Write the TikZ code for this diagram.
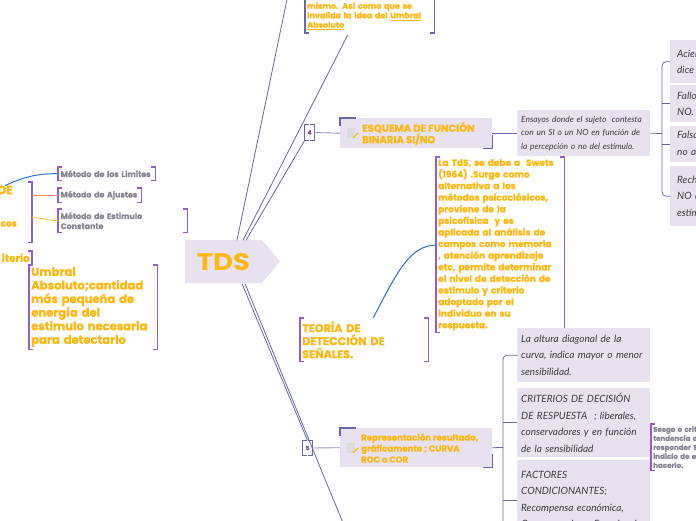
\documentclass[tikz,border=0pt]{standalone}
\usepackage{fontspec}
\setmainfont{Poppins}[BoldFeatures={FakeBold=1.2}]
\newfontfamily\headfont{Poppins}
\newfontfamily\handfont{Lato}
\usetikzlibrary{calc}
\definecolor{orangec}{RGB}{252,185,22}
\definecolor{lav}{RGB}{232,225,239}
\definecolor{linec}{RGB}{104,104,168}
\definecolor{brpurple}{RGB}{150,92,200}
\definecolor{numpurple}{RGB}{140,80,160}
\definecolor{methodgray}{RGB}{135,135,148}
\definecolor{handgray}{RGB}{60,60,66}
\definecolor{bluec}{RGB}{44,112,212}
\definecolor{salmon}{RGB}{240,138,118}
\definecolor{yellowc}{RGB}{246,202,92}

% square brackets round a node
\newcommand{\sqbrackets}[2]{%
  \draw[#2,line width=1.1pt] ([xshift=4pt]#1.north west) -- (#1.north west) -- (#1.south west) -- ([xshift=4pt]#1.south west);
  \draw[#2,line width=1.1pt] ([xshift=-4pt]#1.north east) -- (#1.north east) -- (#1.south east) -- ([xshift=-4pt]#1.south east);}
% corner marks on the shaded boxes
\newcommand{\cornermarks}[1]{%
  \draw[linec,line width=1.5pt] ([yshift=-8pt]#1.north west) -- (#1.north west) -- ([xshift=16pt]#1.north west);
  \draw[linec,line width=1.5pt] ([yshift=13pt]#1.south east) -- (#1.south east) -- ([xshift=-9pt]#1.south east);}

\begin{document}
\begin{tikzpicture}[x=1pt,y=-1pt,
  mainline/.style={linec,line width=0.8pt},
  orangetxt/.style={text=orangec,align=left,inner xsep=2pt,inner ysep=2pt},
  graytxt/.style={text=methodgray,align=left,font=\bfseries\fontsize{7.9}{10}\selectfont,inner xsep=2.5pt,inner ysep=1pt},
  lavbox/.style={fill=lav,inner sep=0pt},
  handtxt/.style={fill=lav,text=handgray,align=left,inner xsep=4pt,inner ysep=0pt,font=\handfont\itshape\fontsize{10}{16.5}\selectfont},
  numbox/.style={text=numpurple,font=\bfseries\fontsize{6}{6}\selectfont,minimum width=9pt,minimum height=15pt,inner sep=0pt}]
  \useasboundingbox (0,0) rectangle (696,520);
  \clip (0,0) rectangle (696,520);
  \fill[white] (0,0) rectangle (696,520);

  % ---- central node ----
  \fill[lav] (185,240) -- (262,240) -- (280,261.5) -- (262,283) -- (185,283) -- cycle;
  \node[text=orangec,font=\headfont\bfseries\fontsize{24}{24}\selectfont,minimum width=77pt,minimum height=43pt,inner sep=0pt]
      (tds) at (223.5,262) {\scalebox{1.15}[1]{TDS}};

  % ---- top branch ----
  \node[orangetxt,anchor=south west,text width=125pt,inner ysep=3pt,font=\bfseries\fontsize{8}{9.5}\selectfont]
      (topnote) at (305,33) {mismo. Así como que se\\invalida la idea del \underline{Umbral}\\\underline{Absoluto}};
  \sqbrackets{topnote}{linec}
  \coordinate (offtop) at (291,-20);
  \draw[mainline] ([xshift=13.5pt]tds.north) -- (offtop);
  \draw[mainline] ([xshift=19.5pt]tds.north) -- ([xshift=-22pt,yshift=-2pt]topnote.south);

  % ---- branch 4 ----
  \node[numbox] (num4) at (309.5,132.5) {4};
  \sqbrackets{num4}{linec}
  \draw[mainline] ([xshift=22.5pt]tds.north) -- (num4.south west);
  \node[lavbox,anchor=north west,minimum width=152pt,minimum height=30pt] (esquema) at (340,118) {};
  \cornermarks{esquema}
  \fill[gray!28] (347,128) rectangle (355,138);
  \draw[orangec,line width=1.3pt] (353,138) -- (358,133);
  \node[orangetxt,anchor=west,inner sep=0pt,font=\bfseries\fontsize{10.1}{11.5}\selectfont] (esqtext) at (362,133.5)
      {ESQUEMA DE FUNCIÓN\\BINARIA SI/NO};
  \draw[linec!70,line width=0.9pt] (num4.east) -- (esquema.west);
  \node[handtxt,anchor=north west,text width=125pt,minimum height=46pt,font=\handfont\itshape\fontsize{8.4}{13.5}\selectfont]
      (ensayos) at (517,110) {Ensayos donde el sujeto\ \ contesta\\con un SI o un NO en función de\\la percepción o no del estímulo.};
  \draw[mainline] (esquema.east) -- (ensayos.west);
  \node[handtxt,anchor=north west,text width=110pt,inner xsep=7pt,minimum height=43pt] (hit) at (670,40) {Aciertos\\dice SI};
  \node[handtxt,anchor=north west,text width=110pt,inner xsep=7pt,minimum height=37pt] (miss) at (670,85) {Fallos; dice\\NO.};
  \node[handtxt,anchor=north west,text width=110pt,inner xsep=7pt,minimum height=36pt] (falarm) at (670,126) {Falsas alarmas\\no aparece};
  \node[handtxt,anchor=north west,text width=110pt,inner xsep=7pt,minimum height=60pt] (reject) at (670,166) {Rechazo\\NO dice\\estímulo};
  \coordinate (jup) at (662,133.5);
  \draw[mainline] (ensayos.east) -- (jup);
  \draw[mainline,rounded corners=4pt] (hit.west) -| (jup) |- (reject.west);
  \draw[mainline] (jup |- miss.west) -- (miss.west);
  \draw[mainline] (jup |- falarm.west) -- (falarm.west);

  % ---- theory node + description ----
  \node[orangetxt,anchor=north west,text width=124pt,minimum height=175pt,font=\bfseries\fontsize{9}{11.6}\selectfont]
      (swets) at (436,157) {La TdS, se debe a\ \ Swets\\(1964) .Surge como\\alternativa a los\\métodos psicoclásicos,\\proviene de la\\psicofísica\ \ y es\\aplicada al análisis de\\campos como memoria\\, atención aprendizaje\\etc, permite determinar\\el nivel de detección de\\estímulo y criterio\\adoptado por el\\individuo en su\\respuesta.};
  \sqbrackets{swets}{brpurple}
  \node[orangetxt,anchor=north west,text width=124pt,minimum height=43pt,font=\bfseries\fontsize{11.2}{13}\selectfont]
      (teoria) at (300,318) {TEORÍA DE\\DETECCIÓN DE\\SEÑALES.};
  \sqbrackets{teoria}{brpurple}
  \draw[bluec,line width=1pt] ([xshift=9pt]teoria.north) .. controls (398,270) and (410,246) .. (swets.west);

  % ---- branch 5 ----
  \node[numbox] (num5) at (307.5,448) {5};
  \sqbrackets{num5}{linec}
  \draw[mainline] ([xshift=18.5pt]tds.south) -- (num5.north);
  \coordinate (offbottom) at (352,545);
  \draw[mainline] ([xshift=21.5pt]tds.south) -- (offbottom);
  \node[lavbox,anchor=north west,minimum width=152pt,minimum height=39pt] (curve) at (340,428) {};
  \cornermarks{curve}
  \fill[gray!28] (347,443) rectangle (355,453);
  \draw[orangec,line width=1.3pt] (353,453) -- (358,448);
  \node[orangetxt,anchor=west,inner sep=0pt,font=\bfseries\fontsize{8.6}{11}\selectfont] (curvetext) at (361,448)
      {Representación resultado,\\gráficamente ; CURVA\\ROC o COR};
  \draw[linec!70,line width=0.9pt] (num5.east) -- (curve.west);
  \node[handtxt,anchor=north west,text width=125pt,minimum height=54pt] (height) at (517,328)
      {La altura diagonal de la\\curva, indica mayor o menor\\sensibilidad.};
  \node[handtxt,anchor=north west,text width=125pt,minimum height=69pt] (criteria) at (517,388)
      {CRITERIOS DE DECISIÓN\\DE RESPUESTA\ \ ; liberales,\\conservadores y en función\\de la sensibilidad};
  \node[handtxt,anchor=north west,text width=125pt,minimum height=80pt] (factors) at (517,460)
      {FACTORES\\CONDICIONANTES;\\Recompensa económica,\\Consecuencias y Experiencia};
  \coordinate (jdown) at (503,447.5);
  \coordinate (offright) at (503,540);
  \draw[mainline] (curve.east) -- (jdown);
  \draw[mainline,rounded corners=4pt] (height.west) -| (jdown) -- (offright);
  \draw[mainline,rounded corners=4pt] (jdown |- criteria.west) -- (criteria.west);
  \draw[mainline,rounded corners=4pt] (jdown |- factors.west) -- (factors.west);
  \node[anchor=north west,text=methodgray,align=left,text width=90pt,inner xsep=2pt,inner ysep=2pt,
      font=\bfseries\fontsize{7.1}{9}\selectfont] (bias) at (651,424)
      {Sesgo o criterio:\\tendencia del sujeto\\responder SI\\indicio de estímulo\\hacerlo.};
  \sqbrackets{bias}{brpurple}

  % ---- left side ----
  \node[anchor=north east,minimum width=120pt,minimum height=60pt,inner sep=0pt] (leftgrp) at (32,182) {};
  \sqbrackets{leftgrp}{brpurple}
  \node[text=orangec,anchor=east,inner sep=0pt,font=\bfseries\fontsize{12}{12}\selectfont] (leftde) at (13,190) {DE};
  \node[text=orangec,anchor=east,inner sep=0pt,font=\bfseries\fontsize{9}{9}\selectfont] (leftcos) at (17,224) {cos};
  \node[graytxt,anchor=north west,text width=92pt,minimum height=13pt] (limits) at (58,167) {Método de los Limites};
  \sqbrackets{limits}{brpurple}
  \node[graytxt,anchor=north west,text width=78pt,minimum height=14pt] (adjust) at (58,188) {Método de Ajustes};
  \sqbrackets{adjust}{brpurple}
  \node[graytxt,anchor=north west,text width=124pt,minimum height=23pt] (constant) at (58,209) {Método de Estimulo\\Constante};
  \sqbrackets{constant}{brpurple}
  \draw[bluec,line width=1pt] (leftde.north) .. controls (25,176) and (40,173.5) .. (limits.west);
  \draw[salmon,line width=1pt] (leftgrp.east |- adjust.west) -- (adjust.west);
  \draw[yellowc,line width=1pt] ([yshift=-5pt]leftgrp.east) .. controls (42,218) and (48,220.5) .. (constant.west);
  \node[text=orangec,anchor=north east,align=right,text width=76pt,minimum height=13pt,inner xsep=2pt,inner ysep=0pt,
      font=\bfseries\fontsize{10.5}{10.5}\selectfont] (leftcrit) at (32,251) {iterio};
  \sqbrackets{leftcrit}{brpurple}
  \node[orangetxt,anchor=north west,text width=124pt,minimum height=83pt,font=\bfseries\fontsize{11.6}{13.6}\selectfont]
      (umbral) at (29,265) {Umbral\\Absoluto;cantidad\\más pequeña de\\energía del\\estimulo necesaria\\para detectarlo};
  \sqbrackets{umbral}{brpurple}
\end{tikzpicture}
\end{document}
